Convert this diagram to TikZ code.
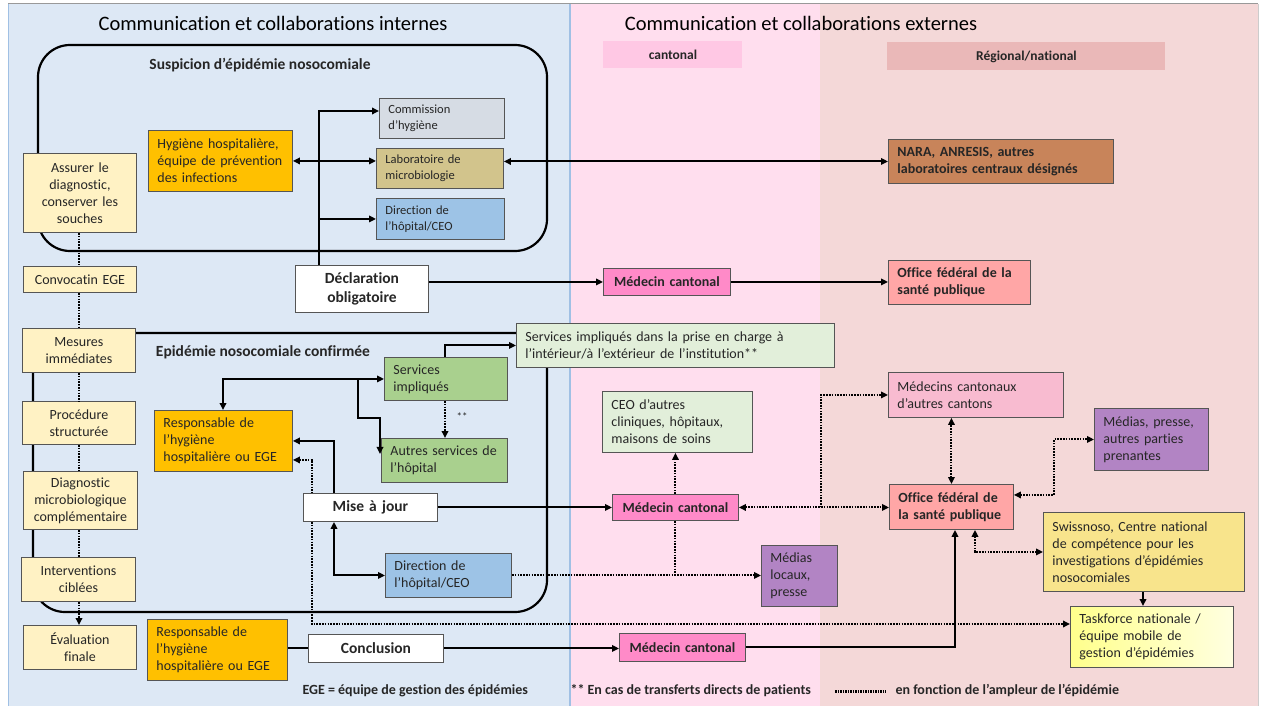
\documentclass[tikz,border=0pt]{standalone}
\usepackage{fontspec}
\setmainfont{Carlito}[Ligatures={TeX,NoCommon}]
\usetikzlibrary{arrows.meta,positioning}

\definecolor{intbg}{RGB}{221,232,245}
\definecolor{intedge}{RGB}{160,192,228}
\definecolor{cantbg}{RGB}{255,222,238}
\definecolor{natbg}{RGB}{244,216,216}
\definecolor{canthead}{RGB}{255,200,228}
\definecolor{nathead}{RGB}{234,184,184}
\definecolor{stepcol}{RGB}{255,242,196}
\definecolor{hygcol}{RGB}{255,192,0}
\definecolor{commcol}{RGB}{214,220,228}
\definecolor{labcol}{RGB}{210,196,140}
\definecolor{dircol}{RGB}{157,195,230}
\definecolor{naracol}{RGB}{200,132,90}
\definecolor{medcol}{RGB}{255,138,200}
\definecolor{ofspcol}{RGB}{255,166,166}
\definecolor{palegreen}{RGB}{226,239,218}
\definecolor{servcol}{RGB}{169,208,142}
\definecolor{purplecol}{RGB}{178,132,196}
\definecolor{mcacol}{RGB}{248,187,208}
\definecolor{swisscol}{RGB}{248,228,140}
\definecolor{taskcol}{RGB}{255,255,140}
\definecolor{boxline}{RGB}{85,85,85}

\tikzset{
  every node/.style={font=\fontsize{14}{17}\selectfont, text=black!85},
  basebox/.style={draw=boxline, line width=0.9pt, anchor=north west, inner ysep=0pt},
  cbox/.style={basebox, inner xsep=5pt, align=center},
  lbox/.style={basebox, inner xsep=9pt, align=left},
  smalltxt/.style={font=\fontsize{12.5}{16}\selectfont},
  boldtxt/.style={font=\fontsize{14}{17}\selectfont\bfseries},
  bigtxt/.style={font=\fontsize{15.5}{19}\selectfont\bfseries},
  headtxt/.style={font=\fontsize{13.5}{16}\selectfont\bfseries},
  ttl/.style={font=\fontsize{20.5}{24}\selectfont, text=black},
  region/.style={draw=black, line width=2.2pt, rounded corners=32pt},
  link/.style={line width=2pt, ->},
  dlink/.style={line width=2pt, <->},
  dotline/.style={line width=2pt, dash pattern=on 1.6pt off 1.2pt},
}

\begin{document}
\begin{tikzpicture}[x=1pt, y=-1pt, >={Triangle[length=7pt,width=6.5pt]}]
  \useasboundingbox (0,0) rectangle (1262,706);
  \fill[white] (0,0) rectangle (1262,706);
  \fill[intbg] (8,4) rectangle (570,706);
  \fill[cantbg] (570,4) rectangle (820,706);
  \fill[natbg] (820,4) rectangle (1258,706);
  \draw[intedge, line width=1.5pt] (8.5,4) -- (8.5,706) (570,4) -- (570,706);
  \draw[gray!80, line width=1.5pt] (8,3.5) -- (1258,3.5);
  \draw[gray!40, line width=1pt] (1258,4) -- (1258,706);

  \node[ttl] (tintern) at (273,23) {Communication et collaborations internes};
  \node[ttl] (textern) at (801,23) {Communication et collaborations externes};
  \node[cbox, draw=none, fill=canthead, minimum width=139pt, minimum height=27pt, headtxt] (cant) at (603,41) {cantonal};
  \node[cbox, draw=none, fill=nathead, minimum width=278pt, minimum height=28pt, headtxt] (regnat) at (887,42) {Régional/national};

  \draw[region] (38,45) rectangle (547,251);
  \node[bigtxt] (susp) at (260,65) {Suspicion d’épidémie nosocomiale};
  \draw[region] (33,333) rectangle (547,612);
  \node[bigtxt] (conf) at (263,352) {Epidémie nosocomiale confirmée};

  \node[cbox, fill=stepcol, text width=103pt, minimum height=79pt] (assurer) at (23,153) {Assurer le\\diagnostic,\\conserver les\\souches};
  \node[cbox, fill=stepcol, text width=103pt, minimum height=26pt] (convoc) at (23,266) {Convocatin EGE};
  \node[cbox, fill=stepcol, text width=103pt, minimum height=44pt] (mesures) at (22,328) {Mesures\\immédiates};
  \node[cbox, fill=stepcol, text width=103pt, minimum height=43pt] (proc) at (22,401) {Procédure\\structurée};
  \node[cbox, fill=stepcol, text width=104pt, minimum height=58pt] (diag) at (23,471) {Diagnostic\\microbiologique\\complémentaire};
  \node[cbox, fill=stepcol, text width=104pt, minimum height=44pt] (interv) at (21,557) {Interventions\\ciblées};
  \node[cbox, fill=stepcol, text width=103pt, minimum height=44pt] (eval) at (23,625) {Évaluation\\finale};

  \node[lbox, fill=hygcol, text width=126pt, minimum height=61pt] (hyg) at (148,130) {Hygiène hospitalière,\\équipe de prévention\\des infections};
  \node[lbox, fill=commcol, text width=107pt, minimum height=40pt, smalltxt] (comm) at (379,98) {Commission\\d’hygiène};
  \node[lbox, fill=labcol, text width=109pt, minimum height=40pt, smalltxt] (lab) at (376,148) {Laboratoire de\\microbiologie};
  \node[lbox, fill=dircol, text width=110pt, minimum height=41pt, smalltxt] (dir1) at (376,198) {Direction de\\l'hôpital/CEO};
  \node[lbox, fill=naracol, text width=207pt, minimum height=44pt, boldtxt] (nara) at (888,139) {NARA, ANRESIS, autres\\laboratoires centraux désignés};
  \node[cbox, fill=white, text width=123pt, minimum height=47pt, bigtxt] (decl) at (295,265) {Déclaration\\obligatoire};
  \node[cbox, fill=medcol, text width=117pt, minimum height=27pt, boldtxt] (medc1) at (603,268) {Médecin cantonal};
  \node[lbox, fill=ofspcol, text width=124pt, minimum height=44pt, boldtxt] (ofsp1) at (888,260) {Office fédéral de la\\santé publique};

  \node[lbox, fill=palegreen, text width=300pt, minimum height=44pt] (servext) at (516,323) {Services impliqués dans la prise en charge à\\l'intérieur/à l'extérieur de l'institution**};
  \node[lbox, fill=servcol, text width=105pt, minimum height=43pt] (serv) at (384,357) {Services\\impliqués};
  \node[lbox, fill=servcol, text width=108pt, minimum height=44pt] (autres) at (381,438) {Autres services de\\l’hôpital};
  \node[lbox, fill=hygcol, text width=120pt, minimum height=61pt] (resp1) at (154,410) {Responsable de\\l'hygiène\\hospitalière ou EGE};
  \node[cbox, fill=white, text width=124pt, minimum height=28pt, bigtxt] (maj) at (303,493) {Mise à jour};
  \node[lbox, fill=dircol, text width=108pt, minimum height=44pt] (dir2) at (385,553) {Direction de\\l'hôpital/CEO};
  \node[font=\fontsize{11}{13}\selectfont] (stars) at (462,417) {**};

  \node[lbox, fill=palegreen, text width=132pt, minimum height=61pt] (ceo) at (602,391) {CEO d'autres\\cliniques, hôpitaux,\\maisons de soins};
  \node[cbox, fill=medcol, text width=116pt, minimum height=26pt, boldtxt] (medc2) at (612,494) {Médecin cantonal};
  \node[lbox, fill=mcacol, text width=157pt, minimum height=45pt] (mca) at (888,372) {Médecins cantonaux\\d'autres cantons};
  \node[lbox, fill=purplecol, text width=96pt, minimum height=62pt] (mpresse) at (1094,408) {Médias, presse,\\autres parties\\prenantes};
  \node[lbox, fill=ofspcol, text width=106pt, minimum height=45pt, boldtxt] (ofsp2) at (889,484) {Office fédéral de\\la santé publique};
  \node[lbox, fill=purplecol, text width=58pt, minimum height=61pt] (mlocaux) at (761,545) {Médias\\locaux,\\presse};
  \node[lbox, fill=swisscol, text width=183pt, minimum height=79pt] (swiss) at (1043,512) {Swissnoso, Centre national\\de compétence pour les\\investigations d’épidémies\\nosocomiales};
  \node[lbox, left color=taskcol, right color=yellow!12, text width=145pt, minimum height=61pt] (task) at (1070,606) {Taskforce nationale /\\équipe mobile de\\gestion d’épidémies};

  \node[lbox, fill=hygcol, text width=122pt, minimum height=61pt] (resp2) at (147,619) {Responsable de\\l'hygiène\\hospitalière ou EGE};
  \node[cbox, fill=white, text width=125pt, minimum height=28pt, bigtxt] (concl) at (308,634) {Conclusion};
  \node[cbox, fill=medcol, text width=116pt, minimum height=28pt, boldtxt] (medc3) at (619,633) {Médecin cantonal};

  \node[boldtxt, anchor=west] (legege) at (299,691) {EGE = équipe de gestion des épidémies};
  \node[boldtxt, anchor=west] (legstar) at (567,691) {** En cas de transferts directs de patients};
  \node[boldtxt, anchor=west] (legdot) at (892,691) {en fonction de l'ampleur de l'épidémie};
  \coordinate (sampa) at (835,691);
  \coordinate (sampb) at (886,691);
  \draw[line width=3pt, dash pattern=on 1.5pt off 1pt] (sampa) -- (sampb);

  \coordinate (spine) at (79,0);
  \coordinate (trunk) at (319,111);
  \coordinate (fork) at (223,378);
  \coordinate (branch) at (358,0);
  \coordinate (servx) at (445,0);
  \coordinate (mx) at (334,0);
  \coordinate (dcorner) at (312,624);
  \coordinate (split) at (821,0);
  \coordinate (mpk) at (1054,0);
  \coordinate (sx) at (975,0);
  \coordinate (sxx) at (955,0);
  \coordinate (tx) at (1143,0);

  \foreach \a/\b in {assurer/convoc,convoc/mesures,mesures/proc,proc/diag,diag/interv}
    \draw[dotline] (\a.south -| spine) -- (\b.north -| spine);
  \draw[dotline,->] (interv.south -| spine) -- (eval.north -| spine);

  \draw[link] (decl.north -| trunk) |- (comm.west |- trunk);
  \draw[link] (trunk |- dir1.west) -- (dir1.west);
  \draw[dlink] (hyg.east) -- (hyg.east -| lab.west);
  \draw[dlink] (nara.west -| lab.east) -- (nara.west);
  \draw[link] (decl.east |- medc1.west) -- (medc1.west);
  \draw[link] (medc1.east) -- (medc1.east -| ofsp1.west);

  \draw[link] (serv.north -| servx) |- (servext.west);
  \draw[dlink] (resp1.north -| fork) |- (serv.west);
  \draw[link] (branch |- serv.west) -- ++(0,39) -- ++(22,0) -- ++(0,36);
  \draw[dotline,->] (serv.south -| servx) -- (autres.north -| servx);
  \draw[link] (maj.north -| mx) |- (resp1.east);
  \draw[dotline,<-] ([yshift=-19pt]resp1.east) -| (maj.north -| dcorner);
  \draw[dotline,->] (maj.south -| dcorner) |- (dcorner -| task.west);
  \draw[dlink] (maj.south -| mx) |- (dir2.west);
  \draw[link] (maj.east) -- (maj.east -| medc2.west);
  \draw[dotline,->] (dir2.east) -- (dir2.east -| mlocaux.west);

  \draw[dotline] (medc2.south) -- (medc2.south |- dir2.east);
  \draw[dotline,->] (medc2.north) -- (medc2.north |- ceo.south);
  \draw[dotline,<->] (medc2.east) -- (medc2.east -| ofsp2.west);
  \draw[dotline,->] (split |- medc2.east) |- (mca.west);
  \draw[dotline,<->] (ofsp2.north) -- (ofsp2.north |- mca.south);
  \draw[dotline,<->] ([yshift=12pt]ofsp2.east) -| (mpk |- mpresse.west) -- (mpresse.west);
  \draw[dotline,<->] (ofsp2.south -| sx) |- (swiss.west);
  \draw[link] (swiss.south -| tx) -- (task.north -| tx);

  \draw[line width=2pt] (resp2.east |- concl.west) -- (concl.west);
  \draw[link] (concl.east) -- (concl.east -| medc3.west);
  \draw[link] (medc3.east) -| (ofsp2.south -| sxx);
\end{tikzpicture}
\end{document}
